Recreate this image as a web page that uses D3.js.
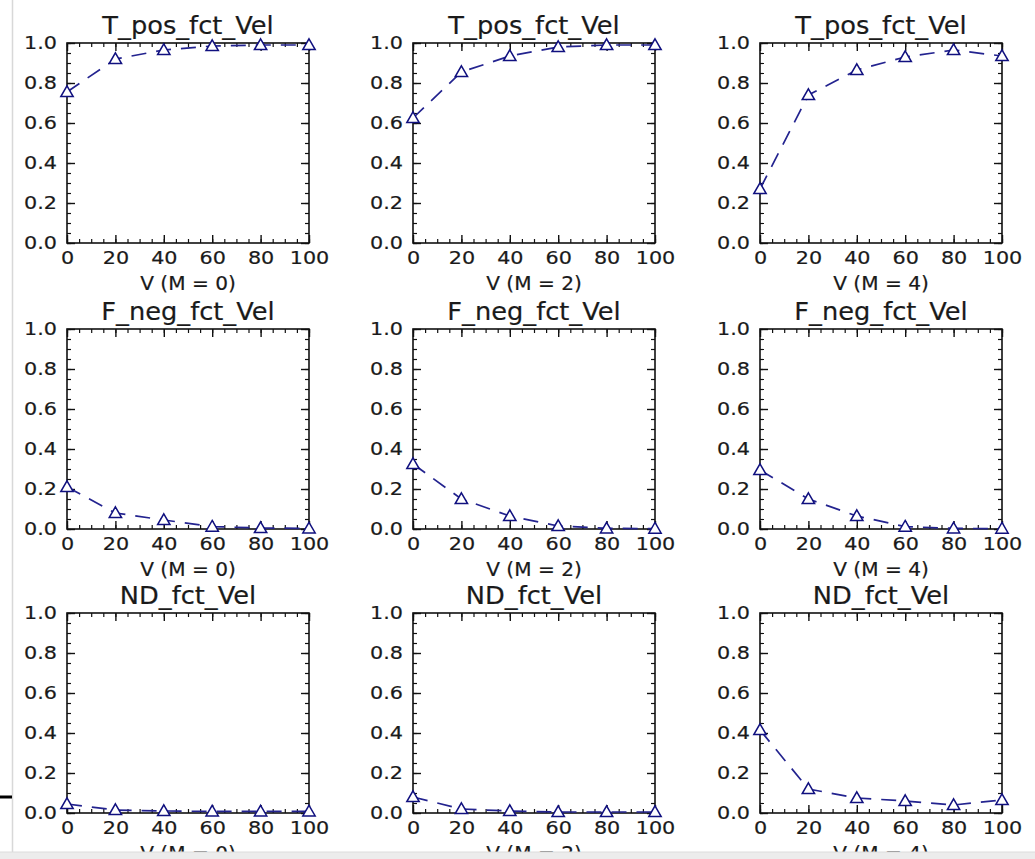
<!DOCTYPE html>
<html>
<head>
<meta charset="utf-8">
<script src="https://cdn.jsdelivr.net/npm/d3@7"></script>
<style>
  html, body { margin: 0; padding: 0; background: #ffffff; }
  svg { display: block; font-family: "DejaVu Sans", sans-serif; }
</style>
</head>
<body>
<svg id="chart" width="1035" height="859"></svg>
<script>
// ---- data ----
const velocities = [0, 20, 40, 60, 80, 100];
const massLabels = ["V (M = 0)", "V (M = 2)", "V (M = 4)"];
const metricTitles = ["T_pos_fct_Vel", "F_neg_fct_Vel", "ND_fct_Vel"];
const xTicks = [0, 20, 40, 60, 80, 100];
const yTicks = [0.0, 0.2, 0.4, 0.6, 0.8, 1.0];

const tPosM0 = [0.755, 0.92, 0.965, 0.985, 0.99, 0.99];
const tPosM2 = [0.625, 0.855, 0.935, 0.98, 0.99, 0.99];
const tPosM4 = [0.27, 0.74, 0.865, 0.93, 0.965, 0.935];
const fNegM0 = [0.21, 0.08, 0.045, 0.012, 0.005, 0.003];
const fNegM2 = [0.325, 0.15, 0.065, 0.015, 0.003, 0.002];
const fNegM4 = [0.295, 0.15, 0.065, 0.012, 0.003, 0.002];
const ndM0 = [0.045, 0.015, 0.01, 0.008, 0.008, 0.008];
const ndM2 = [0.08, 0.02, 0.01, 0.005, 0.005, 0.005];
const ndM4 = [0.415, 0.12, 0.075, 0.06, 0.04, 0.065];

const grid = [
  [tPosM0, tPosM2, tPosM4],
  [fNegM0, fNegM2, fNegM4],
  [ndM0, ndM2, ndM4]
];

// ---- layout ----
const colLeft = [67, 413, 760];
const rowTop = [43, 329, 613];
const pw = 242, ph = 200;
const lineColor = "#23238f";
const markerColor = "#10107f";
const textColor = "#1a1a1a";

const svg = d3.select("#chart");

// page decorations
svg.append("line").attr("x1", 12.5).attr("x2", 12.5).attr("y1", 0).attr("y2", 859)
  .attr("stroke", "#d8d8d8").attr("stroke-width", 1.5);
svg.append("line").attr("x1", 0).attr("x2", 12).attr("y1", 797).attr("y2", 797)
  .attr("stroke", "#000").attr("stroke-width", 3);

const x = d3.scaleLinear().domain([0, 100]).range([0, pw]);
const y = d3.scaleLinear().domain([0, 1]).range([ph, 0]);
const xMinor = d3.range(0, 100.01, 5);
const yMinor = d3.range(0, 1.001, 0.05);

const tri = d3.symbol().type(d3.symbolTriangle).size(66);

const styleText = (sel, size, sx) => sel
  .attr("fill", textColor).attr("stroke", textColor).attr("stroke-width", 0.2)
  .style("font-size", size + "px").style("font-family", "DejaVu Sans, sans-serif")
  .attr("transform", `scale(${sx},1)`);

grid.forEach((row, r) => {
  row.forEach((vals, c) => {
    const g = svg.append("g").attr("transform", `translate(${colLeft[c]},${rowTop[r]})`);

    // minor ticks (inside, all sides)
    const minorStyle = sel => sel.call(s => s.select(".domain").remove())
      .selectAll("line").attr("stroke", "#111").attr("stroke-width", 1.2);
    g.append("g").attr("transform", `translate(0,${ph})`)
      .call(d3.axisBottom(x).tickValues(xMinor).tickSize(-4).tickFormat("")).call(minorStyle);
    g.append("g")
      .call(d3.axisTop(x).tickValues(xMinor).tickSize(-4).tickFormat("")).call(minorStyle);
    g.append("g")
      .call(d3.axisLeft(y).tickValues(yMinor).tickSize(-4).tickFormat("")).call(minorStyle);
    g.append("g").attr("transform", `translate(${pw},0)`)
      .call(d3.axisRight(y).tickValues(yMinor).tickSize(-4).tickFormat("")).call(minorStyle);

    // major ticks
    const majStyle = sel => {
      sel.select(".domain").remove();
      sel.selectAll("line").attr("stroke", "#111").attr("stroke-width", 1.4);
      sel.selectAll("text").call(styleText, 18.5, 1.12);
    };
    g.append("g").attr("transform", `translate(0,${ph})`)
      .call(d3.axisBottom(x).tickValues(xTicks).tickSize(-8).tickPadding(8).tickFormat(d3.format("d")))
      .call(majStyle);
    g.append("g")
      .call(d3.axisTop(x).tickValues(xTicks).tickSize(-8).tickFormat("")).call(majStyle);
    g.append("g")
      .call(d3.axisLeft(y).tickValues(yTicks).tickSize(-8).tickPadding(9).tickFormat(d3.format(".1f")))
      .call(majStyle);
    g.append("g").attr("transform", `translate(${pw},0)`)
      .call(d3.axisRight(y).tickValues(yTicks).tickSize(-8).tickFormat("")).call(majStyle);

    // frame
    g.append("rect").attr("width", pw).attr("height", ph)
      .attr("fill", "none").attr("stroke", "#111").attr("stroke-width", 1.6);

    // data line
    const pts = velocities.map((v, i) => [v, vals[i]]);
    g.append("path").datum(pts)
      .attr("fill", "none").attr("stroke", lineColor).attr("stroke-width", 1.7)
      .attr("stroke-dasharray", "15,10")
      .attr("d", d3.line().x(d => x(d[0])).y(d => y(d[1])));

    g.selectAll("path.mk").data(pts).enter().append("path").attr("class", "mk")
      .attr("transform", d => `translate(${x(d[0])},${y(d[1]) + 1})`)
      .attr("d", tri)
      .attr("fill", "#ffffff").attr("stroke", markerColor).attr("stroke-width", 1.5);

    // title
    g.append("g").attr("transform", `translate(${pw / 2},-9)`)
      .append("text").attr("text-anchor", "middle")
      .call(styleText, 24, 1.07).text(metricTitles[r]);

    // x label
    g.append("g").attr("transform", `translate(${pw / 2},${ph + 47})`)
      .append("text").attr("text-anchor", "middle")
      .call(styleText, 19, 1.06).text(massLabels[c]);
  });
});

// bottom strip
svg.append("rect").attr("x", 0).attr("y", 852).attr("width", 1035).attr("height", 7)
  .attr("fill", "#ececec");
svg.append("line").attr("x1", 0).attr("x2", 1035).attr("y1", 852).attr("y2", 852)
  .attr("stroke", "#dcdcdc").attr("stroke-width", 1);
</script>
</body>
</html>
